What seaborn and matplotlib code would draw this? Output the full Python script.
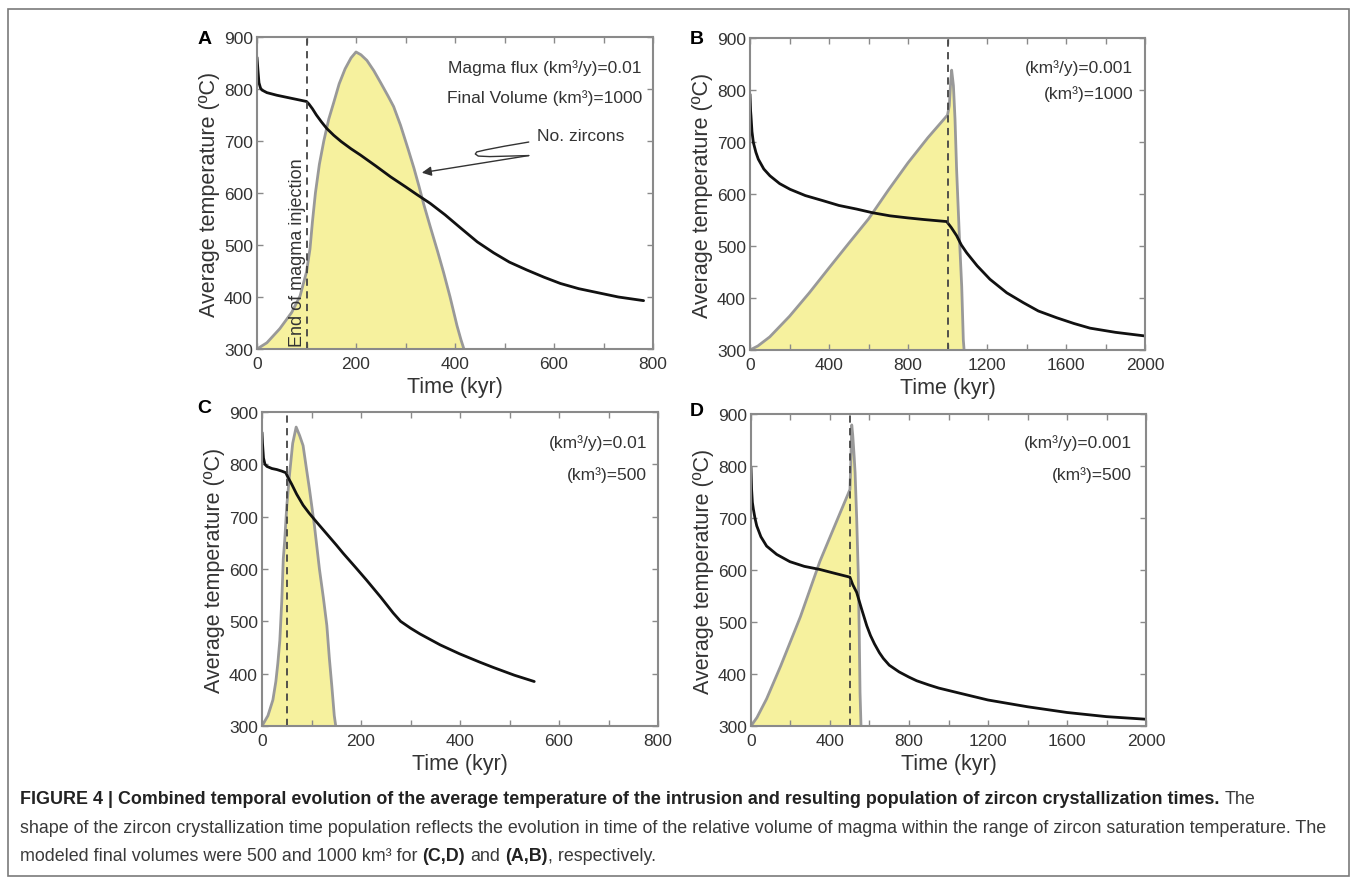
import numpy as np
import pandas as pd
import matplotlib
matplotlib.use("Agg")
import matplotlib.pyplot as plt
import seaborn as sns
from matplotlib import font_manager
from matplotlib.patches import Rectangle

# ---------------------------------------------------------------------------
# Average intrusion temperature (kyr, degC) and relative zircon population
# (fraction of the panel height) for the four model runs.
# ---------------------------------------------------------------------------
# A: flux 0.01 km3/y, final volume 1000 km3
a_time = [0, 2, 4, 7, 10, 20, 40, 60, 80, 100, 105, 112, 120, 130, 141, 155,
          170, 190, 209, 240, 270, 300, 323, 350, 380, 411, 445, 478, 510, 545,
          580, 613, 650, 680, 730, 781]
a_temp = [861, 835, 812, 802, 798, 793, 788, 784, 780, 776, 771, 762, 750, 737,
          724, 711, 699, 685, 673, 652, 631, 612, 597, 580, 558, 533, 506, 485,
          467, 452, 438, 426, 416, 410, 400, 393]
a_zr_time = [0, 20, 46, 70, 87, 100, 107, 112, 118, 126, 135, 145, 155, 166, 178,
             190, 200, 210, 222, 236, 250, 265, 276, 290, 305, 317, 327, 337,
             350, 365, 377, 390, 404, 412, 418]
a_zr_rel = [0, .02, .065, .117, .17, .247, .32, .408, .5, .592, .667, .737, .79,
            .85, .898, .933, .952, .943, .925, .892, .853, .81, .777, .717, .642,
            .58, .523, .463, .392, .312, .245, .167, .075, .03, 0]

# B: flux 0.001 km3/y, final volume 1000 km3
b_time = [0, 3, 5, 10, 17, 30, 42, 70, 101, 150, 203, 280, 371, 450, 540, 620,
          709, 800, 878, 996, 1020, 1046, 1070, 1097, 1150, 1215, 1300, 1384,
          1460, 1553, 1640, 1722, 1850, 2000]
b_temp = [792, 760, 750, 720, 699, 680, 667, 648, 635, 620, 609, 597, 587, 578,
          571, 564, 558, 554, 551, 547, 535, 520, 502, 487, 462, 436, 410, 391,
          375, 362, 351, 342, 334, 327]
b_zr_time = [0, 40, 100, 200, 300, 400, 500, 600, 700, 800, 900, 1000, 1009,
             1016, 1021, 1030, 1038, 1046, 1060, 1072, 1080, 1084]
b_zr_rel = [0, .013, .042, .108, .183, .263, .342, .42, .512, .6, .68, .753, .783,
            .858, .897, .847, .74, .58, .365, .203, .033, 0]

# C: flux 0.01 km3/y, final volume 500 km3
c_time = [0, 1, 3, 6, 10, 20, 30, 40, 48, 52, 60, 70, 83, 95, 110, 130, 150,
          164, 190, 211, 240, 265, 280, 300, 319, 360, 399, 440, 467, 510, 550]
c_temp = [861, 840, 812, 800, 796, 792, 790, 787, 784, 776, 762, 743, 722, 707,
          690, 668, 646, 630, 602, 579, 546, 516, 500, 487, 476, 455, 438, 422,
          412, 397, 385]
c_zr_time = [0, 12, 22, 28, 32, 36, 40, 43, 46, 50, 56, 62, 69, 76, 83, 90, 96,
             106, 116, 124, 131, 136, 141, 146, 149]
c_zr_rel = [0, .033, .083, .142, .2, .272, .4, .532, .593, .7, .807, .9, .952,
            .925, .893, .817, .753, .637, .5, .408, .32, .217, .128, .033, 0]

# D: flux 0.001 km3/y, final volume 500 km3
d_time = [0, 3, 7, 12, 20, 29, 50, 79, 130, 197, 270, 349, 420, 493, 501, 515,
          535, 560, 586, 605, 625, 650, 670, 700, 750, 800, 839, 900, 950, 1058,
          1200, 1400, 1600, 1800, 2000]
d_temp = [797, 755, 730, 717, 700, 685, 664, 646, 630, 616, 607, 601, 594, 587,
          586, 572, 557, 525, 493, 474, 458, 441, 430, 417, 404, 394, 387, 379,
          373, 363, 350, 337, 326, 318, 313]
d_zr_time = [0, 30, 79, 150, 250, 349, 434, 501, 505, 510, 515, 522, 527, 535,
             543, 548, 552, 557]
d_zr_rel = [0, .027, .087, .192, .35, .528, .657, .758, .833, .965, .933, .867,
            .812, .667, .49, .3, .108, 0]

# end of magma injection (kyr)
injection_end = {"A": 100, "B": 1000, "C": 50, "D": 500}
flux_labels = {"A": "Magma flux (km³/y)=0.01", "B": "(km³/y)=0.001",
               "C": "(km³/y)=0.01", "D": "(km³/y)=0.001"}
volume_labels = {"A": "Final Volume (km³)=1000", "B": "(km³)=1000",
                 "C": "(km³)=500", "D": "(km³)=500"}

# ---------------------------------------------------------------------------
sns.set_theme(style="ticks")
plt.rcParams["font.family"] = ["Liberation Sans", "DejaVu Sans"]

W, H = 1357, 887
fig = plt.figure(figsize=(W / 100, H / 100), dpi=100)
fig.patch.set_facecolor("white")

SPINE = "#8a8a8a"
TXT = "#333333"
FILL = "#f6f19e"
OUTLINE = "#999999"


def px_rect(left, top, right, bottom):
    return [left / W, 1 - bottom / H, (right - left) / W, (bottom - top) / H]


panels = {
    "A": dict(rect=px_rect(257, 38, 653, 350), xmax=800, step=100, lab=200,
              t=a_time, T=a_temp, zt=a_zr_time, zr=a_zr_rel,
              txt=(0.972, 0.904, 0.808)),
    "B": dict(rect=px_rect(750, 39, 1145, 351), xmax=2000, step=200, lab=400,
              t=b_time, T=b_temp, zt=b_zr_time, zr=b_zr_rel,
              txt=(0.970, 0.907, 0.824)),
    "C": dict(rect=px_rect(262, 413, 658, 727), xmax=800, step=100, lab=200,
              t=c_time, T=c_temp, zt=c_zr_time, zr=c_zr_rel,
              txt=(0.972, 0.904, 0.803)),
    "D": dict(rect=px_rect(751, 415, 1146, 727), xmax=2000, step=200, lab=400,
              t=d_time, T=d_temp, zt=d_zr_time, zr=d_zr_rel,
              txt=(0.965, 0.910, 0.808)),
}
letter_pos = {"A": (205, 40), "B": (697, 40), "C": (204, 409), "D": (697, 411)}

axes = {}
for key, p in panels.items():
    ax = fig.add_axes(p["rect"])
    twin = ax.twinx()

    # zircon crystallization-time population (relative counts)
    zdf = pd.DataFrame({"time": p["zt"], "rel": p["zr"]})
    twin.fill_between(zdf["time"], 0, zdf["rel"], color=FILL, lw=0)
    sns.lineplot(data=zdf, x="time", y="rel", ax=twin, color=OUTLINE,
                 lw=2.0, sort=False, estimator=None)
    twin.set_ylim(0, 1)
    twin.set_axis_off()

    # temperature curve on top
    ax.set_zorder(twin.get_zorder() + 1)
    ax.patch.set_visible(False)
    tdf = pd.DataFrame({"time": p["t"], "temp": p["T"]})
    sns.lineplot(data=tdf, x="time", y="temp", ax=ax, color="#111111",
                 lw=2.0, sort=False, estimator=None)
    ax.axvline(injection_end[key], color="#444444", lw=1.3, ls=(0, (4, 3)))

    ax.set_xlim(0, p["xmax"])
    ax.set_ylim(300, 900)
    ticks = np.arange(0, p["xmax"] + 1, p["step"])
    ax.set_xticks(ticks, [str(t) if t % p["lab"] == 0 else "" for t in ticks])
    ax.set_yticks(np.arange(300, 901, 100))
    ax.tick_params(direction="in", length=4, width=1, color=SPINE, top=True,
                   right=True, labelsize=12.5, labelcolor=TXT)
    ax.tick_params(axis="x", pad=5)
    ax.tick_params(axis="y", pad=3)
    for s in ax.spines.values():
        s.set_visible(True)
        s.set_color(SPINE)
        s.set_linewidth(1.5)
    ax.set_xlabel("Time (kyr)", fontsize=15.5, color=TXT)
    ax.set_ylabel("Average temperature (ºC)", fontsize=15.5, color=TXT)
    ax.xaxis.set_label_coords(0.5, -0.085)
    ax.yaxis.set_label_coords(-0.093, 0.5)

    tx, ty1, ty2 = p["txt"]
    ax.text(tx, ty1, flux_labels[key], transform=ax.transAxes, ha="right",
            va="center", fontsize=12.5, color=TXT)
    ax.text(tx, ty2, volume_labels[key], transform=ax.transAxes, ha="right",
            va="center", fontsize=12.5, color=TXT)

    lx, ly = letter_pos[key]
    fig.text(lx / W, 1 - ly / H, key, ha="center", va="center",
             fontsize=14, weight="bold", color="black")
    axes[key] = ax

# annotations in panel A
axA = axes["A"]
axA.text(81, 306, "End of magma injection", rotation=90, ha="center",
         va="bottom", fontsize=13, color=TXT)
axA.text(653, 710, "No. zircons", ha="center", va="center", fontsize=12.5,
         color=TXT)
squiggle_x = [549, 500, 462, 444, 441, 447, 470, 549]
squiggle_y = [698, 690, 683, 679, 675, 671, 670, 672]
axA.plot(squiggle_x, squiggle_y, color="#333333", lw=1.0)
axA.annotate("", xy=(333, 639), xytext=(549, 672),
             arrowprops=dict(arrowstyle="-|>", color="#333333", lw=1.0,
                             mutation_scale=14, shrinkA=0, shrinkB=0))

# outer frame
fig.add_artist(Rectangle((8 / W, 1 - 877 / H), (1349 - 8) / W, (877 - 10) / H,
                         transform=fig.transFigure, fill=False,
                         edgecolor="#7a7a7a", lw=1.2))

# caption
def pick_family():
    for fam in ["Liberation Sans Narrow", "Liberation Sans"]:
        try:
            font_manager.findfont(font_manager.FontProperties(family=fam),
                                  fallback_to_default=False)
            return fam
        except Exception:
            continue
    return "DejaVu Sans"


cap_family = pick_family()
renderer = fig.canvas.get_renderer()


def text_width(s, size, weight="normal"):
    t = fig.text(0, 0, s, fontsize=size, weight=weight, family=cap_family)
    w = t.get_window_extent(renderer).width
    t.remove()
    return w


line2 = ("shape of the zircon crystallization time population reflects the "
         "evolution in time of the relative volume of magma within the range "
         "of zircon saturation temperature. The")
cap_size = 10 * 1310 / text_width(line2, 10)


def draw_runs(runs, x0, baseline):
    x = x0
    space = text_width("x x", cap_size) - text_width("xx", cap_size)
    for txt, weight, col, gap in runs:
        t = fig.text(x / W, 1 - baseline / H, txt, fontsize=cap_size,
                     weight=weight, color=col, family=cap_family,
                     ha="left", va="baseline")
        x += t.get_window_extent(renderer).width + (space if gap else 0)


BOLD = "#222222"
REG = "#3a3a3a"
draw_runs([("FIGURE 4 | Combined temporal evolution of the average temperature "
            "of the intrusion and resulting population of zircon "
            "crystallization times.", "bold", BOLD, True),
           ("The", "normal", REG, False)], 20, 804)
draw_runs([(line2, "normal", REG, False)], 20, 833)
draw_runs([("modeled final volumes were 500 and 1000 km³ for", "normal", REG, True),
           ("(C,D)", "bold", BOLD, True),
           ("and", "normal", REG, True),
           ("(A,B)", "bold", BOLD, False),
           (", respectively.", "normal", REG, False)], 20, 861)

fig.savefig("out.png", dpi=100, facecolor="white")
